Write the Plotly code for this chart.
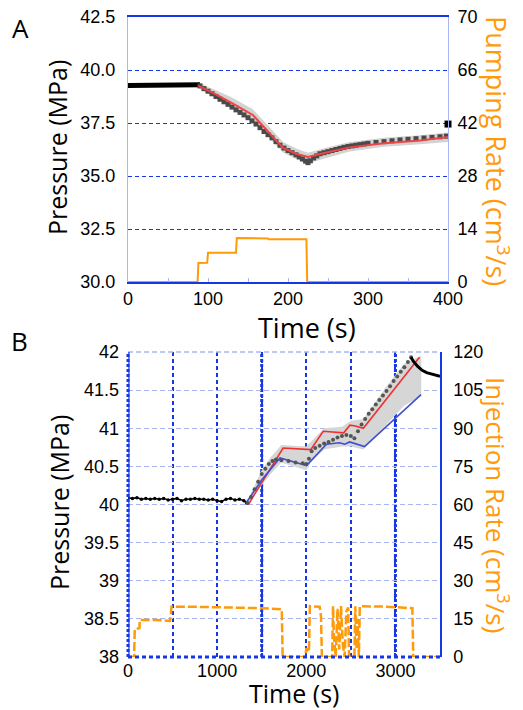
import plotly.graph_objects as go

OFF = 8
W, H = 523 - OFF, 710 - OFF

# ---------------- Panel A data ----------------
a_flat_t = [0, 20, 40, 58, 60, 75, 90]
a_flat_p = [39.27, 39.27, 39.27, 39.27, 39.30, 39.30, 39.30]

a_sq_t = [90, 95, 100, 105, 110, 115, 120, 125, 130, 135, 140, 145, 150, 155, 160, 165, 170, 175, 180,
          185, 190, 195, 200, 205, 210, 214, 218, 222, 225, 228, 232, 236, 240, 245, 250, 255, 260, 265,
          270, 275, 280, 285, 290, 295, 300, 310, 320, 330, 340, 350, 360, 370, 380, 390, 398]
a_sq_p = [39.25, 39.12, 39.0, 38.88, 38.75, 38.62, 38.5, 38.38, 38.25, 38.12, 38.0, 37.88, 37.75, 37.6,
          37.45, 37.28, 37.1, 36.95, 36.8, 36.62, 36.45, 36.32, 36.2, 36.1, 36.0, 35.9, 35.8, 35.7, 35.63,
          35.72, 35.85, 35.95, 36.05, 36.1, 36.15, 36.2, 36.25, 36.3, 36.35, 36.39, 36.42, 36.45, 36.48,
          36.51, 36.54, 36.58, 36.62, 36.66, 36.7, 36.73, 36.76, 36.79, 36.82, 36.85, 36.88]

a_end_t = [400]
a_end_p = [37.45]

a_model_t = [88, 110, 130, 156, 175, 194, 210, 225, 244, 277, 320, 365, 400]
a_model_p = [39.25, 38.85, 38.44, 37.88, 37.1, 36.32, 36.05, 35.9, 36.07, 36.35, 36.55, 36.68, 36.84]

a_band_t = [88, 100, 110, 130, 156, 175, 194, 210, 225, 244, 277, 320, 365, 400]
a_band_hi = [39.45, 39.2, 39.05, 38.7, 38.15, 37.4, 36.6, 36.3, 36.1, 36.3, 36.6, 36.8, 36.92, 37.05]
a_band_lo = [39.15, 38.85, 38.65, 38.2, 37.6, 36.85, 36.1, 35.8, 35.6, 35.8, 36.15, 36.38, 36.5, 36.6]

a_rate_t = [0, 87, 88, 99, 100, 135, 136, 175, 176, 223, 224, 400]
a_rate_q = [0, 0, 5.0, 5.1, 7.7, 7.7, 11.6, 11.5, 11.3, 11.3, 0, 0]

a_p_ticks = [30.0, 32.5, 35.0, 37.5, 40.0, 42.5]
a_rate_tickvals = [0, 14, 28, 42, 56, 70]
a_rate_ticktext = ["0", "14", "28", "42", "66", "70"]
a_time_ticks = [0, 100, 200, 300, 400]

# ---------------- Panel B data ----------------
b_flat_t = [0, 50, 100, 150, 200, 250, 300, 350, 400, 450, 500, 550, 600, 650, 700, 750, 800, 850,
            900, 950, 1000, 1050, 1100, 1150, 1200, 1250, 1300, 1330]
b_flat_p = [40.09, 40.08, 40.09, 40.07, 40.08, 40.07, 40.08, 40.07, 40.08, 40.06, 40.07, 40.08, 40.05,
            40.07, 40.07, 40.08, 40.07, 40.07, 40.06, 40.07, 40.05, 40.04, 40.07, 40.08, 40.06, 40.07,
            40.05, 40.02]

b_dots_t = [1340, 1380, 1420, 1460, 1500, 1540, 1580, 1620, 1660, 1720, 1800, 1880, 1960, 2000, 2030,
            2060, 2100, 2150, 2200, 2250, 2300, 2350, 2400, 2450, 2500, 2540, 2580, 2620, 2660, 2700,
            2740, 2780, 2820, 2860, 2900, 2940, 2980, 3020, 3060, 3100, 3140, 3175]
b_dots_p = [40.02, 40.1, 40.2, 40.3, 40.4, 40.47, 40.53, 40.57, 40.59, 40.58, 40.57, 40.55, 40.54,
            40.53, 40.6, 40.7, 40.74, 40.77, 40.8, 40.82, 40.85, 40.88, 40.9, 40.91, 40.9, 40.87, 40.96,
            41.05, 41.12, 41.19, 41.25, 41.31, 41.37, 41.43, 41.49, 41.55, 41.62, 41.68, 41.74, 41.8,
            41.87, 41.93]

b_decay_t = [3175, 3200, 3250, 3300, 3350, 3400, 3450, 3500]
b_decay_p = [41.93, 41.88, 41.81, 41.76, 41.73, 41.71, 41.69, 41.68]

b_red_t = [1350, 1590, 1740, 2050, 2190, 2420, 2490, 2550, 2640, 3270]
b_red_p = [40.0, 40.45, 40.74, 40.72, 40.96, 40.94, 41.04, 41.03, 41.0, 41.93]

b_blue_t = [1335, 1500, 1705, 2003, 2226, 2374, 2431, 2487, 2654, 3287]
b_blue_p = [40.04, 40.32, 40.61, 40.51, 40.79, 40.81, 40.79, 40.82, 40.76, 41.44]

b_band_t = [1330, 1500, 1600, 1720, 2000, 2050, 2200, 2400, 2500, 2640, 2900, 3100, 3290]
b_band_hi = [40.02, 40.45, 40.62, 40.78, 40.76, 40.82, 41.0, 41.02, 41.1, 41.12, 41.55, 41.85, 41.95]
b_band_lo = [40.0, 40.25, 40.4, 40.55, 40.45, 40.55, 40.72, 40.76, 40.76, 40.72, 41.05, 41.3, 41.42]

b_rate_t = [0, 68, 72, 76, 128, 132, 300, 420, 470, 478, 488, 700, 1000, 1300, 1500, 1600, 1725, 1735,
            1990, 2000, 2030, 2040, 2150, 2165, 2175, 2290, 2300, 2310, 2330, 2350, 2370, 2390, 2410,
            2430, 2450, 2470, 2480, 2540, 2550, 2565, 2575, 2590, 2600, 2900, 3100, 3190, 3200, 3500]
b_rate_q = [0, 0, 5, 11, 11.3, 14.6, 14.6, 14.5, 14.2, 15.8, 19.8, 19.8, 19.6, 19.5, 19.2, 19.0, 18.8, 0,
            0, 3.5, 2, 20, 19.8, 16, 0, 0, 20, 8, 0, 19, 3, 20, 5, 0, 18, 19.5, 0, 0, 20, 3, 15, 0, 20,
            19.8, 19.5, 19.2, 0, 0]

b_p_ticks = [38, 38.5, 39, 39.5, 40, 40.5, 41, 41.5, 42]
b_rate_ticks = [0, 15, 30, 45, 60, 75, 90, 105, 120]
b_time_ticks = [0, 1000, 2000, 3000]
b_thick_grid = [1500, 3000]


def px(x):
    return (x - OFF) / W


def py(y):
    return 1 - (y - OFF) / H


BLUE = "#1537e6"
LAV = "#a9b6f2"
ORANGE = "#ff9a0a"
TICKFONT = dict(family="Liberation Sans, Arial", size=18, color="black")
TITLEFONT = "Open Sans, Liberation Sans"

fig = go.Figure()

# ---- Panel A traces ----
fig.add_trace(go.Scatter(x=a_band_t + a_band_t[::-1], y=a_band_hi + a_band_lo[::-1], fill="toself",
                         fillcolor="#d3d3d3", line=dict(width=0), mode="lines", xaxis="x", yaxis="y",
                         hoverinfo="skip"))
fig.add_trace(go.Scatter(x=a_flat_t, y=a_flat_p, mode="lines", line=dict(color="black", width=5),
                         xaxis="x", yaxis="y"))
fig.add_trace(go.Scatter(x=a_sq_t, y=a_sq_p, mode="markers",
                         marker=dict(symbol="square", size=5, color="#4a4a4a"), xaxis="x", yaxis="y"))
fig.add_trace(go.Scatter(x=a_model_t, y=a_model_p, mode="lines", line=dict(color="#ee4444", width=2),
                         xaxis="x", yaxis="y"))
fig.add_trace(go.Scatter(x=a_end_t, y=a_end_p, mode="markers",
                         marker=dict(symbol="square", size=7, color="black"), xaxis="x", yaxis="y",
                         cliponaxis=False))
fig.add_trace(go.Scatter(x=a_rate_t, y=a_rate_q, mode="lines", line=dict(color=ORANGE, width=2),
                         xaxis="x", yaxis="y3"))

# ---- Panel B traces ----
fig.add_trace(go.Scatter(x=b_band_t + b_band_t[::-1], y=b_band_hi + b_band_lo[::-1], fill="toself",
                         fillcolor="#d6d6d6", line=dict(width=0), mode="lines", xaxis="x2", yaxis="y2",
                         hoverinfo="skip"))
fig.add_trace(go.Scatter(x=b_red_t, y=b_red_p, mode="lines", line=dict(color="#f03030", width=1.6),
                         xaxis="x2", yaxis="y2"))
fig.add_trace(go.Scatter(x=b_blue_t, y=b_blue_p, mode="lines", line=dict(color="#3c50d0", width=1.6),
                         xaxis="x2", yaxis="y2"))
fig.add_trace(go.Scatter(x=b_flat_t, y=b_flat_p, mode="lines+markers", line=dict(color="black", width=1.5),
                         marker=dict(size=3.5, color="black"), xaxis="x2", yaxis="y2"))
fig.add_trace(go.Scatter(x=b_dots_t, y=b_dots_p, mode="markers", marker=dict(size=4, color="#555555"),
                         xaxis="x2", yaxis="y2"))
fig.add_trace(go.Scatter(x=b_decay_t, y=b_decay_p, mode="lines", line=dict(color="black", width=3),
                         xaxis="x2", yaxis="y2"))
fig.add_trace(go.Scatter(x=b_rate_t, y=b_rate_q, mode="lines",
                         line=dict(color=ORANGE, width=2.5, dash="9px,3px"), xaxis="x2", yaxis="y4"))

dA_x = [px(128), px(448)]
dA_y = [py(282), py(17)]
dB_x = [px(128), px(440)]
dB_y = [py(657), py(352)]

fig.update_layout(
    template="none",
    width=W, height=H, margin=dict(l=0, r=0, t=0, b=0, autoexpand=False), showlegend=False,
    plot_bgcolor="white", paper_bgcolor="white",
    xaxis=dict(domain=dA_x, anchor="y", range=[0, 400], tickvals=a_time_ticks, showgrid=False,
               zeroline=False, showline=True, linecolor=BLUE, linewidth=1.5, mirror=True,
               ticks="inside", ticklen=4, tickcolor=LAV, automargin=False,
               minor=dict(ticks="inside", dtick=50, ticklen=4, tickcolor=LAV),
               tickfont=TICKFONT, ticklabelstandoff=0, ticklabeloverflow="allow"),
    yaxis=dict(domain=dA_y, anchor="x", range=[30, 42.5], tickvals=a_p_ticks, tickformat=".1f",
               showgrid=True, gridcolor=BLUE, griddash="4px,3px", gridwidth=1, zeroline=False,
               showline=True, linecolor=LAV, linewidth=1, tickfont=TICKFONT, ticks="",
               ticklabelstandoff=8, automargin=False, ticklabeloverflow="allow"),
    yaxis3=dict(overlaying="y", anchor="x", side="right", range=[0, 70], tickvals=a_rate_tickvals,
                ticktext=a_rate_ticktext, showgrid=False, zeroline=False, showline=True, linecolor=LAV,
                linewidth=1, tickfont=TICKFONT, ticks="", ticklabelstandoff=5, automargin=False,
                ticklabeloverflow="allow"),
    xaxis2=dict(domain=dB_x, anchor="y2", range=[0, 3500], tickvals=b_time_ticks, showgrid=True,
                gridcolor=BLUE, griddash="4px,3px", gridwidth=1.5, zeroline=False, showline=False,
                ticks="", tickfont=TICKFONT, ticklabelstandoff=1, ticklabeloverflow="allow",
                minor=dict(dtick=500, showgrid=True, gridcolor=BLUE, griddash="4px,3px", gridwidth=1.5),
                automargin=False),
    yaxis2=dict(domain=dB_y, anchor="x2", range=[38, 42], tickvals=b_p_ticks, showgrid=True,
                gridcolor=LAV, griddash="5px,3px", gridwidth=1, zeroline=False, showline=False,
                tickfont=TICKFONT, ticks="", ticklabelstandoff=8, automargin=False,
                ticklabeloverflow="allow"),
    yaxis4=dict(overlaying="y2", anchor="x2", side="right", range=[0, 120], tickvals=b_rate_ticks,
                showgrid=False, zeroline=False, showline=True, linecolor=BLUE, linewidth=1.5,
                tickfont=TICKFONT, ticks="", ticklabelstandoff=8, automargin=False,
                ticklabeloverflow="allow"),
)

# Panel B: heavier dotted grid lines every 1500 s
for gx in b_thick_grid:
    fig.add_shape(type="line", xref="x2", yref="y2 domain", x0=gx, x1=gx, y0=0, y1=1, layer="below",
                  line=dict(color=BLUE, width=3, dash="3px,2px"))

# Panel B frame decorations
fig.add_shape(type="line", xref="x2 domain", yref="y2 domain", x0=0, x1=1, y0=1, y1=1,
              line=dict(color=LAV, width=1.5, dash="5px,3px"))
fig.add_shape(type="line", xref="x2 domain", yref="y2 domain", x0=0, x1=1, y0=0, y1=0,
              line=dict(color=BLUE, width=3, dash="4px,3px"))
fig.add_shape(type="line", xref="x2 domain", yref="y2 domain", x0=0, x1=0, y0=0, y1=1,
              line=dict(color=BLUE, width=3, dash="3px,2px"))
fig.add_shape(type="line", xref="x2 domain", yref="y2 domain", x0=0.003, x1=0.003, y0=0, y1=1,
              line=dict(color=BLUE, width=1.2))


def label(text, x, y, size=23, color="black", angle=0, family=TITLEFONT):
    return dict(text=text, x=px(x), y=py(y), xref="paper", yref="paper", showarrow=False,
                xanchor="center", yanchor="middle", textangle=angle,
                font=dict(family=family, size=size, color=color))


ann = [
    label("A", 20, 28, size=26),
    label("B", 19, 341, size=26),
    label("Pressure (MPa)", 57, 148, size=25, angle=-90),
    label("Pressure (MPa)", 59, 503, size=25, angle=-90),
    label("Pumping Rate (cm<sup>3</sup>/s)", 498, 151, size=27, color=ORANGE, angle=90),
    label("Injection Rate (cm<sup>3</sup>/s)", 497, 505, size=26, color=ORANGE, angle=90),
    label("Time (s)", 307, 327, size=27),
    label("Time (s)", 294, 693, size=25),
]
fig.update_layout(annotations=ann)

fig.write_html("out.html")
